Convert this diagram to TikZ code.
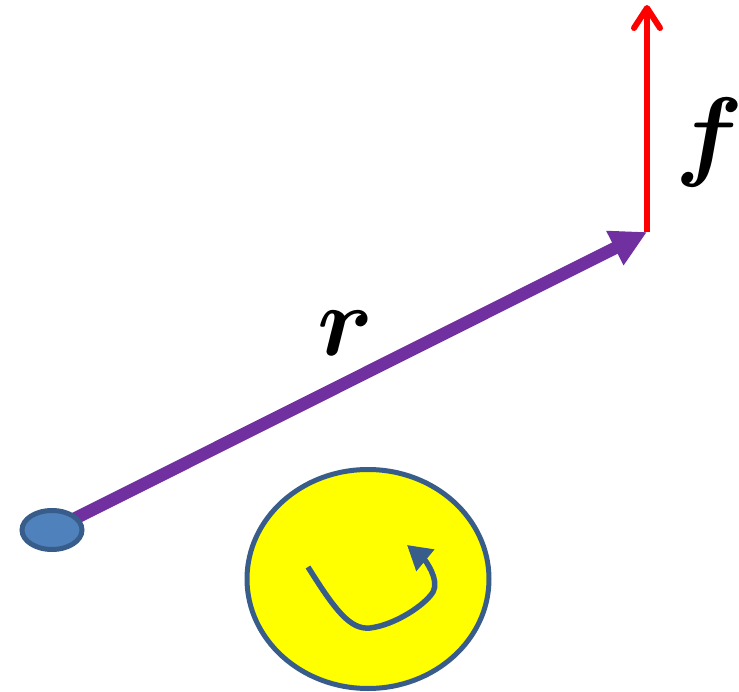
\documentclass[tikz,border=0pt]{standalone}
\usepackage{fix-cm}
\usepackage{amsmath}
\usepackage{bm}
\usetikzlibrary{arrows.meta, shapes.geometric}
\definecolor{vecpurple}{HTML}{7030A0}
\definecolor{pivotblue}{HTML}{4F81BD}
\definecolor{edgeblue}{HTML}{385D8A}
\definecolor{discyellow}{HTML}{FFFF00}
\definecolor{fred}{HTML}{FF0000}
\tikzset{pivot/.style = {shape = ellipse, draw = edgeblue, fill = pivotblue, line width = 5pt, minimum width = 60pt, minimum height = 39pt, inner sep = 0pt}}
\tikzset{rvec/.style = {vecpurple, line width = 12.5pt, -{Triangle[length = 36pt, width = 36pt]}}}
\tikzset{fvec/.style = {fred, line width = 6pt, -{Straight Barb[length = 20pt, width = 26pt, round]}}}
\tikzset{disc/.style = {shape = ellipse, draw = edgeblue, fill = discyellow, line width = 5pt, minimum width = 242pt, minimum height = 219pt, inner sep = 0pt}}
\tikzset{spin/.style = {edgeblue, line width = 5.5pt, -{Triangle[length = 24pt, width = 27pt]}}}
\tikzset{lab/.style = {font = \fontsize{100}{100}\selectfont, inner sep = 0pt}}

\begin{document}
\begin{tikzpicture}[x = 1pt, y = -1pt]
	\useasboundingbox (0, 0) rectangle (739, 692);

	\coordinate (o) at (52, 530);
	\coordinate (p) at (647, 232);
	\coordinate (ftip) at (647, 5);

	\draw[rvec] (o) -- (p);
	\draw[fvec] (p) -- (ftip);
	\node[pivot] (origin) at (o) {};

	\node[lab] (rlab) at (346, 333) {$\bm{r}$};
	\node[lab] (flab) at (709, 143) {$\bm{f}$};

	\node[disc] (wheel) at (368, 579) {};
	\draw[spin] (308, 567) .. controls (335, 610) and (350, 630) .. (370, 628)
		.. controls (395, 625) and (425, 605) .. (433, 592)
		.. controls (440, 580) and (425, 560) .. (407, 545);
\end{tikzpicture}
\end{document}
